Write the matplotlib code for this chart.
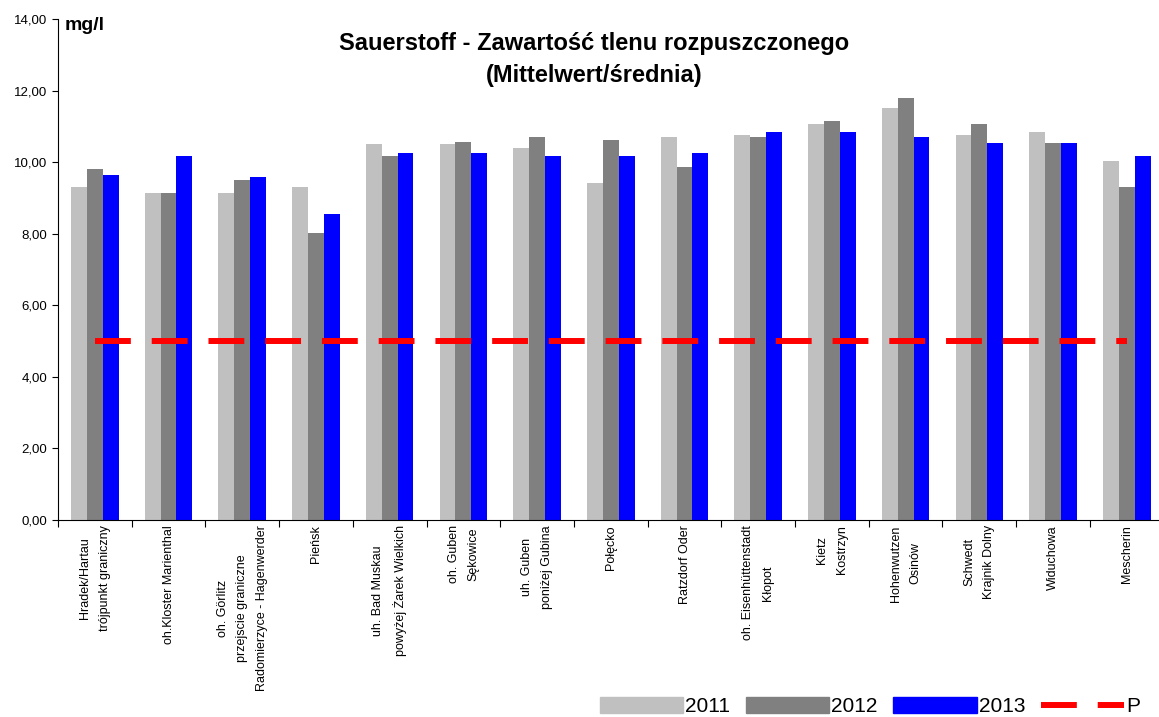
import matplotlib.pyplot as plt
import numpy as np
from matplotlib.patches import Patch
from matplotlib.lines import Line2D
from matplotlib.ticker import FuncFormatter, FixedLocator

plt.rcParams['font.family'] = ['Liberation Sans', 'DejaVu Sans']

stations = [
    "Hradek/Hartau\ntrójpunkt graniczny",
    "oh.Kloster Marienthal",
    "oh. Görlitz\nprzejscie graniczne\nRadomierzyce - Hagenwerder",
    "Pieńsk",
    "uh. Bad Muskau\npowyżej Żarek Wielkich",
    "oh. Guben\nSękowice",
    "uh. Guben\nponiżej Gubina",
    "Połęcko",
    "Ratzdorf Oder",
    "oh. Eisenhüttenstadt\nKłopot",
    "Kietz\nKostrzyn",
    "Hohenwutzen\nOsinów",
    "Schwedt\nKrajnik Dolny",
    "Widuchowa",
    "Mescherin",
]
val_2011 = [9.30, 9.15, 9.15, 9.30, 10.50, 10.50, 10.40, 9.43, 10.71, 10.76, 11.07, 11.52, 10.76, 10.85, 10.04]
val_2012 = [9.82, 9.15, 9.51, 8.03, 10.18, 10.55, 10.71, 10.62, 9.87, 10.71, 11.15, 11.80, 11.07, 10.54, 9.30]
val_2013 = [9.65, 10.18, 9.59, 8.56, 10.26, 10.26, 10.18, 10.18, 10.26, 10.85, 10.85, 10.71, 10.54, 10.54, 10.18]
p_limit = [5.0] * len(stations)

fig = plt.figure(figsize=(11.59, 7.17), dpi=100)
ax = fig.add_axes([0.050, 0.2748, 0.954, 0.6987])

x = np.arange(len(stations))
w = 0.215
dash = (0, (6.0, 3.5))
ax.bar(x - w, val_2011, w, color='#C0C0C0', label='2011')
ax.bar(x, val_2012, w, color='#808080', label='2012')
ax.bar(x + w, val_2013, w, color='#0000FF', label='2013')
ax.plot(x, p_limit, color='#FF0000', lw=4.3, linestyle=dash,
        dash_capstyle='butt', label='P')

ax.set_xlim(-0.5, len(stations) - 0.5)
ax.set_ylim(0, 14)
ax.set_yticks(np.arange(0, 15, 2))
ax.yaxis.set_major_formatter(FuncFormatter(lambda v, pos: f"{v:.2f}".replace('.', ',')))
ax.tick_params(axis='y', labelsize=9.5, length=4, direction='out')

ax.xaxis.set_major_locator(FixedLocator(np.arange(len(stations) + 1) - 0.5))
ax.tick_params(axis='x', length=5, labelbottom=False)
for i, name in enumerate(stations):
    ax.text(i, -0.15, name, rotation=90, ha='center', va='top', fontsize=9,
            multialignment='center', linespacing=1.85)

for s in ['top', 'right']:
    ax.spines[s].set_visible(False)

fig.text(0.5125, 0.917, "Sauerstoff - Zawartość tlenu rozpuszczonego\n(Mittelwert/średnia)",
         ha='center', va='center', fontsize=17, fontweight='bold', linespacing=1.55)
fig.text(0.056, 0.965, "mg/l", ha='left', va='center', fontsize=14, fontweight='bold')

handles = [Patch(color='#C0C0C0'), Patch(color='#808080'), Patch(color='#0000FF'),
           Line2D([], [], color='#FF0000', lw=4.3, linestyle=dash, dash_capstyle='butt')]
fig.legend(handles, ['2011', '2012', '2013', 'P'], loc='lower right', bbox_to_anchor=(1.0, -0.025),
           ncol=4, frameon=False, fontsize=15, handlelength=4.0, handleheight=0.8,
           handletextpad=0.1, columnspacing=0.75)

fig.savefig('out.png', dpi=100)
